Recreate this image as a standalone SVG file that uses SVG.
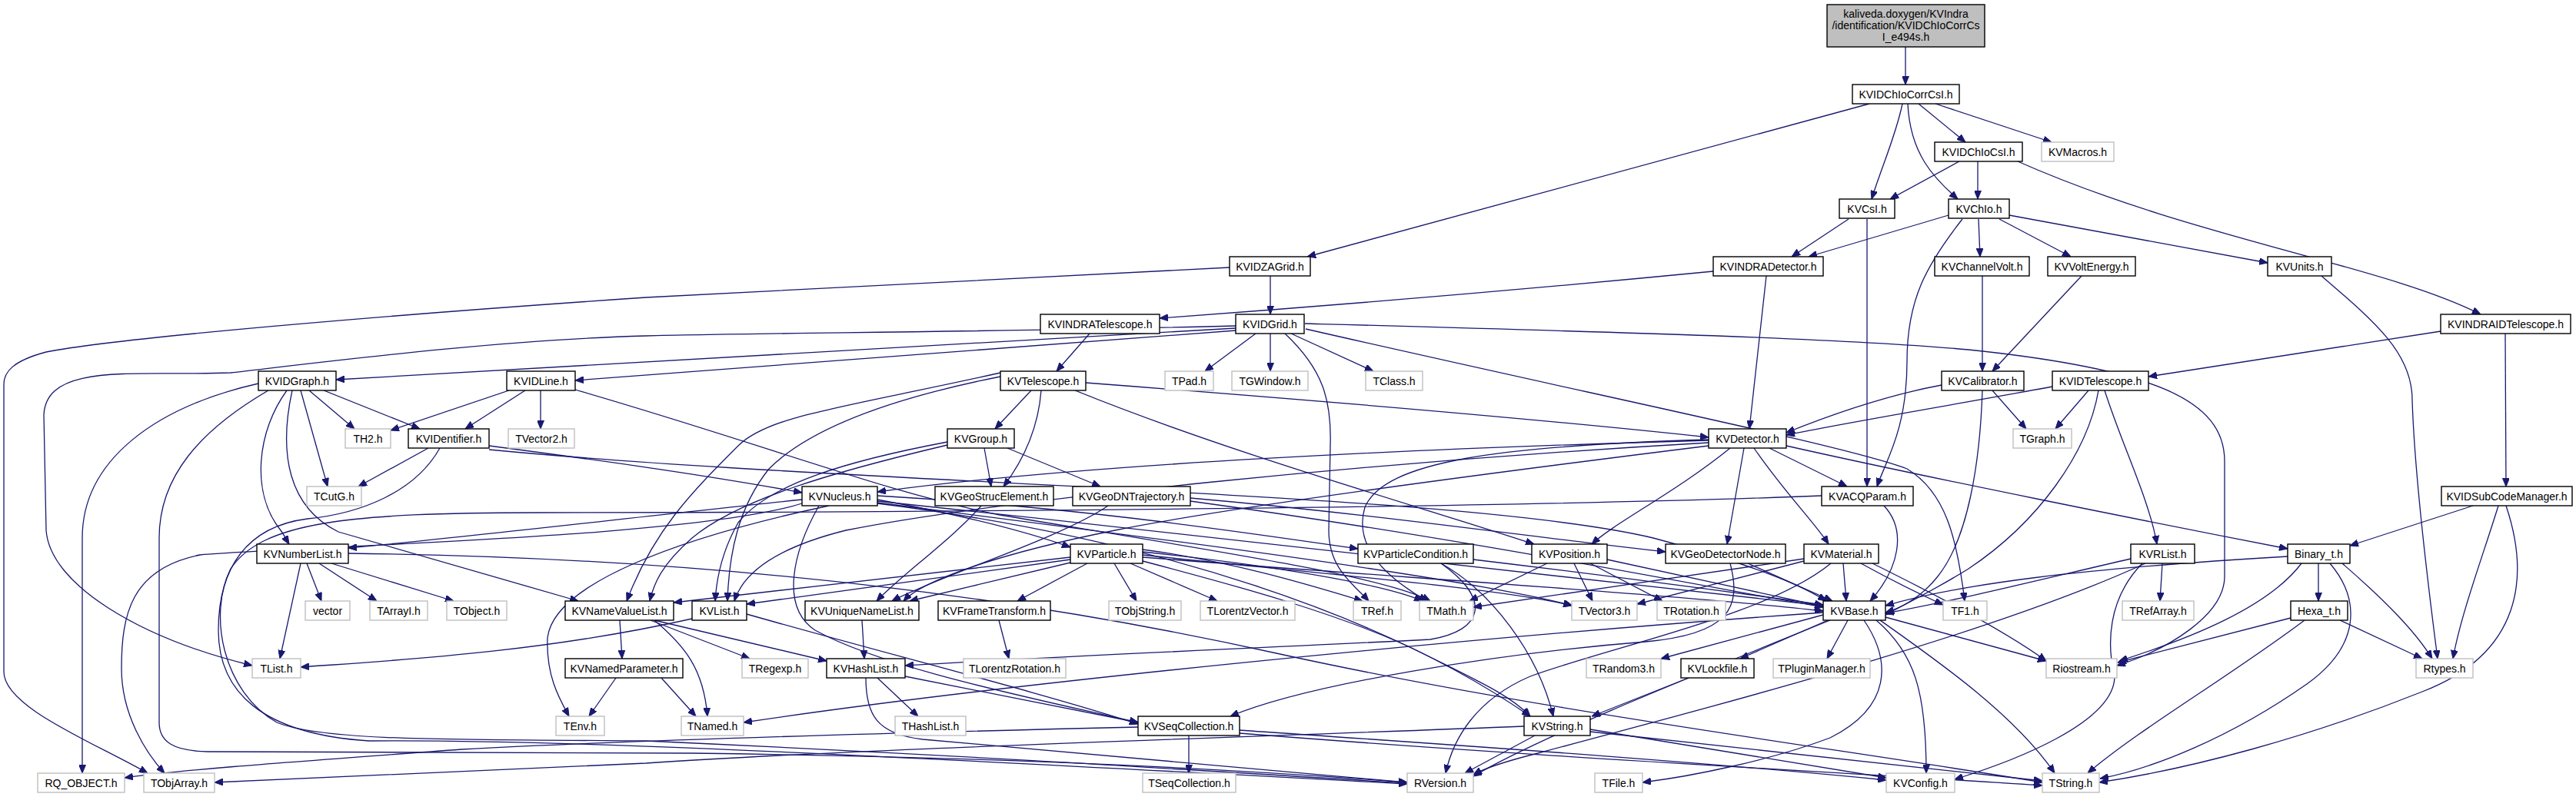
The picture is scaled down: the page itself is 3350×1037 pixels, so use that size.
<svg xmlns="http://www.w3.org/2000/svg" width="3350" height="1037" viewBox="0 0 3350 1037">
<defs>
<style>
.n rect{fill:#fff;stroke:#000;stroke-width:1.4}
.x rect{fill:#fff;stroke:#bfbfbf;stroke-width:1.4}
.r rect{fill:#bfbfbf;stroke:#000;stroke-width:1.4}
text{font-family:"Liberation Sans",Arial,Helvetica,sans-serif;font-size:14px;text-anchor:middle;fill:#000}
.e path{fill:none;stroke:#191970;stroke-width:1.3;marker-end:url(#a)}
</style>
<marker id="a" markerUnits="userSpaceOnUse" markerWidth="11" markerHeight="9" refX="11" refY="4.5" orient="auto"><path d="M0,0 L11,4.5 L0,9 z" fill="#191970" stroke="#191970" stroke-width="1"/></marker>
</defs>
<rect x="0" y="0" width="3350" height="1037" fill="#fff"/>
<g id="edges" class="e">
<path d="M2478,61 L2478,110"/>
<path d="M2431,135 L1700,334"/>
<path d="M2474,135 C2466,175 2446,220 2434,259"/>
<path d="M2481,135 C2484,200 2515,232 2546,259"/>
<path d="M2495,135 L2556,185"/>
<path d="M2517,135 L2668,185"/>
<path d="M2548,210 L2458,259"/>
<path d="M2572,210 L2572,259"/>
<path d="M2624,210 C2850,310 3100,345 3226,409"/>
<path d="M2404,285 L2330,334"/>
<path d="M2428,285 L2428,633"/>
<path d="M2534,280 L2352,334"/>
<path d="M2552,285 C2505,345 2480,390 2480,470 C2480,560 2452,600 2441,633"/>
<path d="M2573,285 L2575,334"/>
<path d="M2600,285 L2693,334"/>
<path d="M2613,280 L2949,342"/>
<path d="M1652,359 L1652,409"/>
<path d="M1599,348 L840,387 C500,410 150,440 60,458 C15,470 5,485 5,500 L5,874 C5,920 120,965 192,1006"/>
<path d="M2228,353 C1950,380 1700,400 1508,414"/>
<path d="M2297,359 L2275,558"/>
<path d="M2578,359 L2578,483"/>
<path d="M2707,359 L2591,483"/>
<path d="M3019,359 C3090,420 3137,460 3137,520 C3140,620 3160,780 3170,857"/>
<path d="M3174,431 L2794,490"/>
<path d="M3258,434 L3259,633"/>
<path d="M1417,434 L1374,483"/>
<path d="M1607,427 L437,494"/>
<path d="M1607,430 L748,495"/>
<path d="M1633,434 L1567,483"/>
<path d="M1652,434 L1652,483"/>
<path d="M1679,434 L1786,483"/>
<path d="M1607,424 C1300,432 1000,433 840,437 C650,442 430,470 300,485 C180,490 60,470 57,540 L60,690 C65,760 180,830 328,866"/>
<path d="M1671,434 C1720,480 1732,520 1730,580 L1728,690 C1728,740 1760,760 1780,782"/>
<path d="M1697,421 C2100,432 2400,440 2560,455 C2800,480 2893,520 2893,600 L2893,750 C2893,800 2820,845 2753,866"/>
<path d="M1698,428 C2100,520 2400,580 2480,610 C2530,640 2545,700 2555,782"/>
<path d="M402,508 L461,558"/>
<path d="M421,508 L546,558"/>
<path d="M391,508 L426,633"/>
<path d="M373,508 C335,560 325,640 365,690 C370,697 373,703 376,708"/>
<path d="M380,508 C362,590 375,660 440,692 L752,782"/>
<path d="M336,499 C200,530 107,600 107,700 L107,1006"/>
<path d="M349,508 C260,560 207,620 207,700 L207,940 C207,965 225,977 270,978 L900,980 C1300,985 1600,1000 1830,1018"/>
<path d="M557,583 L466,633"/>
<path d="M636,580 C750,595 900,615 1043,641"/>
<path d="M636,585 C1100,630 1900,640 2150,700 C2280,735 2340,760 2375,782"/>
<path d="M572,583 C540,640 470,668 400,675 C320,685 284,740 284,820 C284,900 340,955 480,964 C700,962 1000,975 1830,1020"/>
<path d="M662,508 L508,560"/>
<path d="M683,508 L605,558"/>
<path d="M703,508 L703,558"/>
<path d="M748,507 C1000,580 1150,640 1300,670 C1600,720 1800,750 1860,782"/>
<path d="M1341,508 L1294,558"/>
<path d="M1354,508 C1350,560 1330,600 1305,633"/>
<path d="M1412,498 C1700,520 2000,545 2222,569"/>
<path d="M1398,508 C1600,590 1850,660 1995,708"/>
<path d="M1301,485 C1100,530 1000,540 960,580 C900,640 850,690 815,782"/>
<path d="M1301,490 C1150,520 1050,560 1000,610 C960,660 948,720 946,782"/>
<path d="M1280,583 L1289,633"/>
<path d="M1310,583 L1431,633"/>
<path d="M1232,575 C1100,600 1000,630 960,680 C940,715 932,750 930,782"/>
<path d="M1232,579 C1080,615 960,650 900,700 C860,735 850,760 845,782"/>
<path d="M1276,658 C1240,700 1170,750 1140,782"/>
<path d="M1548,648 C1800,670 2000,700 2166,718"/>
<path d="M1441,658 C1380,700 1220,750 1160,782"/>
<path d="M1548,652 C1900,700 2200,760 2371,790"/>
<path d="M1043,650 C850,670 600,700 453,713"/>
<path d="M1141,650 C1250,670 1330,690 1392,712"/>
<path d="M1043,655 C900,700 400,710 260,722 C170,740 158,800 158,870 C158,930 190,980 214,1006"/>
<path d="M1078,658 C880,700 720,760 712,830 C710,880 728,910 740,932"/>
<path d="M1141,655 C1500,700 1800,800 1990,932"/>
<path d="M1141,652 C1600,700 2100,760 2371,788"/>
<path d="M1141,654 C1500,700 1900,750 2045,788"/>
<path d="M1141,645 C1400,660 1600,690 1766,714"/>
<path d="M1065,658 C1030,720 1015,790 1060,820 C1150,870 1350,910 1480,940"/>
<path d="M1392,725 L876,784"/>
<path d="M1392,728 L971,786"/>
<path d="M1392,732 L1183,782"/>
<path d="M1414,733 L1323,782"/>
<path d="M1449,733 L1478,782"/>
<path d="M1470,733 L1583,782"/>
<path d="M1486,715 C1600,730 1700,760 1772,782"/>
<path d="M1486,718 C1650,735 1800,760 1850,782"/>
<path d="M1486,722 C1700,745 1950,765 2044,788"/>
<path d="M1486,725 C1800,750 2200,775 2371,795"/>
<path d="M1486,730 C1600,760 1750,800 1850,850 C1920,885 1965,905 1990,932"/>
<path d="M1299,807 L1312,857"/>
<path d="M399,733 L418,782"/>
<path d="M415,733 L490,782"/>
<path d="M431,733 L590,782"/>
<path d="M391,733 L364,857"/>
<path d="M453,720 C900,725 1300,770 1660,850 C2000,925 2400,975 2656,1018"/>
<path d="M806,807 L809,857"/>
<path d="M900,805 C700,850 500,860 391,868"/>
<path d="M846,807 L975,857"/>
<path d="M851,807 L1075,860"/>
<path d="M851,807 C890,840 915,870 920,932"/>
<path d="M801,882 L766,932"/>
<path d="M860,882 L905,932"/>
<path d="M971,799 C1150,850 1350,900 1480,942"/>
<path d="M1121,807 L1124,857"/>
<path d="M1141,882 L1194,932"/>
<path d="M1177,880 L1480,940"/>
<path d="M1126,882 C1126,930 1140,955 1200,962 C1450,985 1700,1005 1830,1018"/>
<path d="M1546,957 L1546,1006"/>
<path d="M1480,946 C1100,955 800,964 600,975 C400,990 250,1000 162,1012"/>
<path d="M1612,950 C1900,970 2200,990 2453,1015"/>
<path d="M1612,954 C2000,985 2400,1005 2656,1022"/>
<path d="M1982,945 C1600,960 1100,975 840,993 C600,1005 400,1012 279,1018"/>
<path d="M1996,957 L1905,1006"/>
<path d="M2068,949 L2453,1012"/>
<path d="M2068,952 L2656,1016"/>
<path d="M2371,800 L2160,857"/>
<path d="M2377,807 L2263,857"/>
<path d="M2403,807 L2376,857"/>
<path d="M2371,797 C1900,830 1300,890 967,940"/>
<path d="M2380,807 C2200,880 2000,960 1916,1010"/>
<path d="M2424,807 C2460,860 2460,920 2380,960 C2300,990 2200,1010 2136,1018"/>
<path d="M2440,807 C2490,850 2505,900 2505,1006"/>
<path d="M2445,807 C2520,860 2620,930 2672,1006"/>
<path d="M2452,803 L2661,860"/>
<path d="M2196,882 L2070,932"/>
<path d="M1874,733 C1940,770 2000,850 2020,932"/>
<path d="M1916,728 C2100,750 2250,770 2371,787"/>
<path d="M1874,733 C1940,780 1930,820 1860,832 C1600,845 1350,855 1177,866"/>
<path d="M2012,733 L1911,782"/>
<path d="M2047,733 L2071,782"/>
<path d="M2068,733 L2162,782"/>
<path d="M2090,728 L2371,789"/>
<path d="M2273,733 L2383,782"/>
<path d="M2250,733 C2265,790 2250,825 2140,835 C1950,850 1700,890 1600,932"/>
<path d="M2397,733 L2401,782"/>
<path d="M2346,730 L2129,786"/>
<path d="M2346,727 L1916,790"/>
<path d="M2381,733 C2300,800 2100,840 1990,880 C1920,910 1890,960 1880,1006"/>
<path d="M2420,733 C2460,755 2490,770 2527,787"/>
<path d="M2435,733 C2550,790 2620,830 2661,860"/>
<path d="M2301,583 L2402,633"/>
<path d="M2250,583 C2180,640 2100,680 2070,708"/>
<path d="M2268,583 L2246,708"/>
<path d="M2281,583 C2320,640 2360,680 2378,708"/>
<path d="M2323,580 C2500,620 2800,680 2975,714"/>
<path d="M2222,573 C1800,585 1400,605 1141,640"/>
<path d="M2222,576 C1800,600 1300,650 1100,690 C1000,715 965,750 955,782"/>
<path d="M2222,580 C1900,620 1600,660 1450,690 C1300,720 1200,755 1175,782"/>
<path d="M2222,572 C1950,580 1800,600 1775,660 C1760,710 1800,750 1856,782"/>
<path d="M2450,658 C2480,690 2470,740 2432,782"/>
<path d="M2369,645 C2000,660 1200,667 700,667 C450,667 340,680 300,740 C270,800 290,900 360,940 C420,965 600,962 840,964 C1300,985 1600,1005 1830,1019"/>
<path d="M2591,508 L2635,558"/>
<path d="M2525,501 C2450,515 2380,540 2323,563"/>
<path d="M2578,508 C2575,600 2560,700 2520,750 C2500,775 2475,790 2452,797"/>
<path d="M2716,508 L2673,558"/>
<path d="M2669,503 C2550,525 2400,550 2323,566"/>
<path d="M2737,508 C2760,580 2795,650 2805,708"/>
<path d="M2729,508 C2715,590 2650,680 2560,740 C2520,765 2480,785 2452,800"/>
<path d="M3216,658 L3056,710"/>
<path d="M3249,658 C3230,720 3200,800 3190,857"/>
<path d="M3259,658 C3290,750 3280,850 3150,900 C3000,960 2850,1000 2730,1018"/>
<path d="M2812,733 L2809,782"/>
<path d="M2771,727 C2650,755 2550,780 2452,798"/>
<path d="M2790,733 C2600,820 2300,900 2000,980 C1960,990 1930,1000 1916,1008"/>
<path d="M2786,733 C2740,780 2740,840 2750,880 C2750,940 2620,990 2542,1014"/>
<path d="M3015,733 L3015,782"/>
<path d="M2993,733 C2950,790 2850,830 2756,860"/>
<path d="M3046,733 C3100,780 3140,820 3163,857"/>
<path d="M3030,733 C3070,780 3070,840 3000,890 C2900,960 2800,1000 2731,1013"/>
<path d="M2975,724 C2700,740 2550,760 2452,788"/>
<path d="M2979,804 L2754,862"/>
<path d="M2997,807 C2900,880 2780,950 2715,1006"/>
<path d="M3043,807 L3150,857"/>
</g>
<g id="root" class="r"><rect x="2376" y="6" width="205" height="55"/><text x="2478.5" y="23">kaliveda.doxygen/KVIndra</text><text x="2478.5" y="38">/identification/KVIDChIoCorrCs</text><text x="2478.5" y="53">I_e494s.h</text></g>
<g id="KVIDChIoCorrCsI" class="n"><rect x="2409" y="110" width="139" height="25"/><text x="2478.5" y="127.5">KVIDChIoCorrCsI.h</text></g>
<g id="KVIDChIoCsI" class="n"><rect x="2516" y="185" width="114" height="25"/><text x="2573" y="202.5">KVIDChIoCsI.h</text></g>
<g id="KVMacros" class="x"><rect x="2655" y="185" width="94" height="25"/><text x="2702" y="202.5">KVMacros.h</text></g>
<g id="KVCsI" class="n"><rect x="2392" y="259" width="72" height="25"/><text x="2428" y="276.5">KVCsI.h</text></g>
<g id="KVChIo" class="n"><rect x="2534" y="259" width="79" height="25"/><text x="2573.5" y="276.5">KVChIo.h</text></g>
<g id="KVIDZAGrid" class="n"><rect x="1599" y="334" width="105" height="25"/><text x="1651.5" y="351.5">KVIDZAGrid.h</text></g>
<g id="KVINDRADetector" class="n"><rect x="2228" y="334" width="143" height="25"/><text x="2299.5" y="351.5">KVINDRADetector.h</text></g>
<g id="KVChannelVolt" class="n"><rect x="2516" y="334" width="123" height="25"/><text x="2577.5" y="351.5">KVChannelVolt.h</text></g>
<g id="KVVoltEnergy" class="n"><rect x="2663" y="334" width="114" height="25"/><text x="2720" y="351.5">KVVoltEnergy.h</text></g>
<g id="KVUnits" class="n"><rect x="2949" y="334" width="83" height="25"/><text x="2990.5" y="351.5">KVUnits.h</text></g>
<g id="KVINDRATelescope" class="n"><rect x="1353" y="409" width="155" height="25"/><text x="1430.5" y="426.5">KVINDRATelescope.h</text></g>
<g id="KVIDGrid" class="n"><rect x="1607" y="409" width="89" height="25"/><text x="1651.5" y="426.5">KVIDGrid.h</text></g>
<g id="KVINDRAIDTelescope" class="n"><rect x="3174" y="409" width="169" height="25"/><text x="3258.5" y="426.5">KVINDRAIDTelescope.h</text></g>
<g id="KVIDGraph" class="n"><rect x="336" y="483" width="101" height="25"/><text x="386.5" y="500.5">KVIDGraph.h</text></g>
<g id="KVIDLine" class="n"><rect x="659" y="483" width="89" height="25"/><text x="703.5" y="500.5">KVIDLine.h</text></g>
<g id="KVTelescope" class="n"><rect x="1301" y="483" width="111" height="25"/><text x="1356.5" y="500.5">KVTelescope.h</text></g>
<g id="TPad" class="x"><rect x="1515" y="483" width="63" height="25"/><text x="1546.5" y="500.5">TPad.h</text></g>
<g id="TGWindow" class="x"><rect x="1602" y="483" width="99" height="25"/><text x="1651.5" y="500.5">TGWindow.h</text></g>
<g id="TClass" class="x"><rect x="1776" y="483" width="74" height="25"/><text x="1813" y="500.5">TClass.h</text></g>
<g id="KVCalibrator" class="n"><rect x="2525" y="483" width="107" height="25"/><text x="2578.5" y="500.5">KVCalibrator.h</text></g>
<g id="KVIDTelescope" class="n"><rect x="2669" y="483" width="125" height="25"/><text x="2731.5" y="500.5">KVIDTelescope.h</text></g>
<g id="TH2" class="x"><rect x="449" y="558" width="59" height="25"/><text x="478.5" y="575.5">TH2.h</text></g>
<g id="KVIDentifier" class="n"><rect x="531" y="558" width="105" height="25"/><text x="583.5" y="575.5">KVIDentifier.h</text></g>
<g id="TVector2" class="x"><rect x="661" y="558" width="86" height="25"/><text x="704" y="575.5">TVector2.h</text></g>
<g id="KVGroup" class="n"><rect x="1232" y="558" width="87" height="25"/><text x="1275.5" y="575.5">KVGroup.h</text></g>
<g id="KVDetector" class="n"><rect x="2222" y="558" width="101" height="25"/><text x="2272.5" y="575.5">KVDetector.h</text></g>
<g id="TGraph" class="x"><rect x="2618" y="558" width="76" height="25"/><text x="2656" y="575.5">TGraph.h</text></g>
<g id="TCutG" class="x"><rect x="399" y="633" width="71" height="25"/><text x="434.5" y="650.5">TCutG.h</text></g>
<g id="KVNucleus" class="n"><rect x="1043" y="633" width="98" height="25"/><text x="1092" y="650.5">KVNucleus.h</text></g>
<g id="KVGeoStrucElement" class="n"><rect x="1216" y="633" width="154" height="25"/><text x="1293" y="650.5">KVGeoStrucElement.h</text></g>
<g id="KVGeoDNTrajectory" class="n"><rect x="1395" y="633" width="153" height="25"/><text x="1471.5" y="650.5">KVGeoDNTrajectory.h</text></g>
<g id="KVACQParam" class="n"><rect x="2369" y="633" width="119" height="25"/><text x="2428.5" y="650.5">KVACQParam.h</text></g>
<g id="KVIDSubCodeManager" class="n"><rect x="3175" y="633" width="170" height="25"/><text x="3260" y="650.5">KVIDSubCodeManager.h</text></g>
<g id="KVNumberList" class="n"><rect x="334" y="708" width="119" height="25"/><text x="393.5" y="725.5">KVNumberList.h</text></g>
<g id="KVParticle" class="n"><rect x="1392" y="708" width="94" height="25"/><text x="1439" y="725.5">KVParticle.h</text></g>
<g id="KVParticleCondition" class="n"><rect x="1766" y="708" width="150" height="25"/><text x="1841" y="725.5">KVParticleCondition.h</text></g>
<g id="KVPosition" class="n"><rect x="1992" y="708" width="98" height="25"/><text x="2041" y="725.5">KVPosition.h</text></g>
<g id="KVGeoDetectorNode" class="n"><rect x="2166" y="708" width="156" height="25"/><text x="2244" y="725.5">KVGeoDetectorNode.h</text></g>
<g id="KVMaterial" class="n"><rect x="2346" y="708" width="97" height="25"/><text x="2394.5" y="725.5">KVMaterial.h</text></g>
<g id="KVRList" class="n"><rect x="2771" y="708" width="83" height="25"/><text x="2812.5" y="725.5">KVRList.h</text></g>
<g id="Binary_t" class="n"><rect x="2975" y="708" width="81" height="25"/><text x="3015.5" y="725.5">Binary_t.h</text></g>
<g id="vector" class="x"><rect x="397" y="782" width="58" height="25"/><text x="426" y="799.5">vector</text></g>
<g id="TArrayI" class="x"><rect x="481" y="782" width="75" height="25"/><text x="518.5" y="799.5">TArrayI.h</text></g>
<g id="TObject" class="x"><rect x="581" y="782" width="78" height="25"/><text x="620" y="799.5">TObject.h</text></g>
<g id="KVNameValueList" class="n"><rect x="735" y="782" width="141" height="25"/><text x="805.5" y="799.5">KVNameValueList.h</text></g>
<g id="KVList" class="n"><rect x="900" y="782" width="71" height="25"/><text x="935.5" y="799.5">KVList.h</text></g>
<g id="KVUniqueNameList" class="n"><rect x="1047" y="782" width="148" height="25"/><text x="1121" y="799.5">KVUniqueNameList.h</text></g>
<g id="KVFrameTransform" class="n"><rect x="1220" y="782" width="146" height="25"/><text x="1293" y="799.5">KVFrameTransform.h</text></g>
<g id="TObjString" class="x"><rect x="1442" y="782" width="94" height="25"/><text x="1489" y="799.5">TObjString.h</text></g>
<g id="TLorentzVector" class="x"><rect x="1561" y="782" width="123" height="25"/><text x="1622.5" y="799.5">TLorentzVector.h</text></g>
<g id="TRef" class="x"><rect x="1760" y="782" width="62" height="25"/><text x="1791" y="799.5">TRef.h</text></g>
<g id="TMath" class="x"><rect x="1846" y="782" width="70" height="25"/><text x="1881" y="799.5">TMath.h</text></g>
<g id="TVector3" class="x"><rect x="2044" y="782" width="85" height="25"/><text x="2086.5" y="799.5">TVector3.h</text></g>
<g id="TRotation" class="x"><rect x="2155" y="782" width="89" height="25"/><text x="2199.5" y="799.5">TRotation.h</text></g>
<g id="KVBase" class="n"><rect x="2371" y="782" width="81" height="25"/><text x="2411.5" y="799.5">KVBase.h</text></g>
<g id="TF1" class="x"><rect x="2527" y="782" width="57" height="25"/><text x="2555.5" y="799.5">TF1.h</text></g>
<g id="TRefArray" class="x"><rect x="2760" y="782" width="93" height="25"/><text x="2806.5" y="799.5">TRefArray.h</text></g>
<g id="Hexa_t" class="n"><rect x="2979" y="782" width="74" height="25"/><text x="3016" y="799.5">Hexa_t.h</text></g>
<g id="TList" class="x"><rect x="328" y="857" width="63" height="25"/><text x="359.5" y="874.5">TList.h</text></g>
<g id="KVNamedParameter" class="n"><rect x="735" y="857" width="153" height="25"/><text x="811.5" y="874.5">KVNamedParameter.h</text></g>
<g id="TRegexp" class="x"><rect x="965" y="857" width="86" height="25"/><text x="1008" y="874.5">TRegexp.h</text></g>
<g id="KVHashList" class="n"><rect x="1075" y="857" width="102" height="25"/><text x="1126" y="874.5">KVHashList.h</text></g>
<g id="TLorentzRotation" class="x"><rect x="1253" y="857" width="133" height="25"/><text x="1319.5" y="874.5">TLorentzRotation.h</text></g>
<g id="TRandom3" class="x"><rect x="2063" y="857" width="97" height="25"/><text x="2111.5" y="874.5">TRandom3.h</text></g>
<g id="KVLockfile" class="n"><rect x="2186" y="857" width="95" height="25"/><text x="2233.5" y="874.5">KVLockfile.h</text></g>
<g id="TPluginManager" class="x"><rect x="2306" y="857" width="126" height="25"/><text x="2369" y="874.5">TPluginManager.h</text></g>
<g id="Riostream" class="x"><rect x="2661" y="857" width="92" height="25"/><text x="2707" y="874.5">Riostream.h</text></g>
<g id="Rtypes" class="x"><rect x="3142" y="857" width="74" height="25"/><text x="3179" y="874.5">Rtypes.h</text></g>
<g id="TEnv" class="x"><rect x="723" y="932" width="63" height="25"/><text x="754.5" y="949.5">TEnv.h</text></g>
<g id="TNamed" class="x"><rect x="886" y="932" width="81" height="25"/><text x="926.5" y="949.5">TNamed.h</text></g>
<g id="THashList" class="x"><rect x="1164" y="932" width="92" height="25"/><text x="1210" y="949.5">THashList.h</text></g>
<g id="KVSeqCollection" class="n"><rect x="1480" y="932" width="132" height="25"/><text x="1546" y="949.5">KVSeqCollection.h</text></g>
<g id="KVString" class="n"><rect x="1982" y="932" width="86" height="25"/><text x="2025" y="949.5">KVString.h</text></g>
<g id="RQ_OBJECT" class="x"><rect x="49" y="1006" width="113" height="25"/><text x="105.5" y="1023.5">RQ_OBJECT.h</text></g>
<g id="TObjArray" class="x"><rect x="187" y="1006" width="92" height="25"/><text x="233" y="1023.5">TObjArray.h</text></g>
<g id="TSeqCollection" class="x"><rect x="1486" y="1006" width="121" height="25"/><text x="1546.5" y="1023.5">TSeqCollection.h</text></g>
<g id="RVersion" class="x"><rect x="1830" y="1006" width="86" height="25"/><text x="1873" y="1023.5">RVersion.h</text></g>
<g id="TFile" class="x"><rect x="2074" y="1006" width="62" height="25"/><text x="2105" y="1023.5">TFile.h</text></g>
<g id="KVConfig" class="x"><rect x="2453" y="1006" width="89" height="25"/><text x="2497.5" y="1023.5">KVConfig.h</text></g>
<g id="TString" class="x"><rect x="2656" y="1006" width="74" height="25"/><text x="2693" y="1023.5">TString.h</text></g>
</svg>
